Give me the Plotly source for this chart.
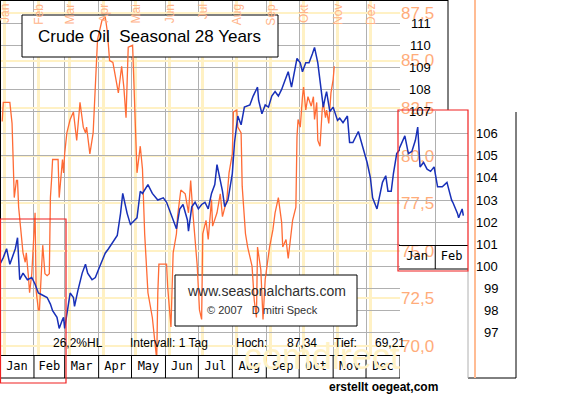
import plotly.graph_objects as go

W, H = 561, 395

# ---------------- data ----------------
# seasonal pattern (index, 28 years), day of year; values beyond 365 continue into Jan/Feb of next year
season_day = [0, 3, 6, 9, 14, 16, 18, 21, 25, 29, 32, 35, 39, 43, 46, 48, 52, 54, 57, 58, 59, 61, 64, 67, 68,
              71, 75, 78, 80, 84, 87, 91, 96, 99, 103, 107, 110, 112, 116, 119, 121, 125, 128, 130, 135, 139,
              144, 149, 152, 157, 161, 164, 167, 171, 172, 175, 178, 181, 184, 187, 190, 193, 196, 198, 201,
              203, 205, 208, 212, 214, 217, 220, 223, 228, 231, 235, 236, 239, 242, 245, 248, 251, 254, 257,
              260, 263, 266, 268, 271, 274, 276, 279, 282, 285, 287, 290, 292, 295, 297, 298, 301, 304, 308,
              310, 313, 317, 319, 322, 327, 331, 335, 338, 340, 344, 347, 349, 352, 354, 357, 359, 362, 365,
              370, 373, 376, 379, 381, 383, 386, 389, 392, 395, 398, 402, 406, 410, 411, 415, 416, 419, 420]
season_val = [100.1, 100.4, 100.8, 100.1, 100.8, 101.3, 99.4, 99.7, 99.4, 99.5, 99.2, 98.8, 98.7, 98.6, 98.3,
              98.0, 97.7, 97.2, 97.6, 97.7, 97.2, 97.8, 98.8, 98.6, 98.2, 98.9, 99.7, 100.1, 99.7, 99.4, 99.5,
              100.0, 100.6, 100.8, 101.1, 101.4, 102.4, 103.3, 102.4, 101.9, 102.0, 102.2, 103.4, 103.3, 103.7,
              103.3, 103.0, 103.1, 102.9, 102.2, 101.7, 102.6, 102.8, 102.1, 101.6, 102.7, 102.9, 102.6, 102.8,
              102.9, 102.6, 103.3, 103.7, 104.6, 103.9, 103.4, 102.7, 103.0, 104.2, 105.6, 106.8, 106.4, 107.2,
              107.3, 107.7, 108.1, 107.5, 106.9, 107.3, 107.2, 107.7, 107.9, 107.7, 108.0, 108.4, 108.8, 108.1,
              108.7, 109.4, 109.2, 108.8, 109.2, 109.2, 109.6, 109.9, 109.2, 108.4, 107.2, 107.7, 107.9, 107.0,
              107.2, 106.6, 106.7, 106.5, 106.8, 105.6, 105.6, 106.1, 105.4, 104.7, 104.0, 103.1, 102.6, 103.3,
              103.8, 104.1, 103.4, 103.4, 104.2, 105.1, 105.3,
              105.9, 105.1, 105.2, 105.7, 106.3, 104.5, 104.7, 104.4, 104.3, 104.5, 103.6, 103.6, 103.8, 103.0,
              102.9, 102.4, 102.2, 102.6, 102.3]

# actual crude oil price (orange, right scale)
price_day = [2, 3, 9, 11, 12, 13, 15, 16, 17, 19, 21, 23, 24, 26, 27, 29, 30, 32, 33, 35, 36, 38, 39, 41, 43,
             45, 46, 47, 48, 53, 54, 57, 58, 59, 61, 64, 67, 70, 73, 76, 78, 79, 82, 85, 88, 89, 93, 96, 98, 100,
             103, 106, 108, 111, 113, 115, 117, 121, 123, 125, 128, 130, 132, 135, 139, 141, 143, 144, 145, 152,
             153, 156, 158, 161, 162, 165, 169, 172, 174, 176, 180, 182, 184, 185, 188, 190, 193, 194, 198, 201,
             203, 207, 209, 212, 213, 216, 217, 220, 221, 224, 226, 230, 232, 234, 235, 238, 240, 242, 245, 246,
             249, 251, 254, 257, 258, 261, 263, 266, 267, 270, 271, 272, 274, 276, 277, 279, 281, 284, 286, 287,
             289, 290, 292, 294, 295, 297, 298, 300, 302, 304, 305]
price_val = [81.8, 82.8, 82.8, 81.7, 79.8, 77.8, 78.7, 78.7, 77.3, 75.9, 74.9, 74.4, 74.9, 73.6, 72.8, 73.8, 74.9,
             77.0, 72.9, 71.9, 71.9, 74.2, 75.3, 73.8, 73.7, 73.8, 77.8, 78.7, 79.8, 79.8, 77.8, 79.8, 79.1, 80.1,
             81.2, 81.9, 82.3, 80.8, 82.8, 81.5, 81.2, 81.5, 80.1, 81.2, 84.7, 86.1, 87.1, 87.3, 86.5, 85.0, 84.9,
             83.8, 83.3, 84.7, 83.6, 82.0, 85.7, 85.8, 82.4, 79.1, 80.5, 79.3, 75.9, 72.8, 71.5, 70.2, 69.3, 72.8,
             74.3, 74.3, 73.1, 71.0, 74.9, 75.9, 76.8, 78.2, 78.0, 77.0, 78.7, 77.0, 74.2, 71.9, 71.4, 75.9, 76.6,
             75.6, 77.7, 76.3, 77.0, 78.0, 76.8, 77.7, 79.1, 80.1, 82.3, 82.4, 81.5, 81.2, 78.4, 75.9, 75.2, 74.2,
             72.4, 71.5, 75.2, 74.0, 71.4, 73.5, 74.9, 75.2, 76.1, 77.0, 77.8, 76.5, 75.2, 75.6, 74.6, 75.9, 76.6,
             77.3, 81.0, 81.9, 81.5, 83.1, 83.6, 82.4, 83.1, 82.6, 83.1, 81.9, 82.8, 80.8, 80.5, 82.4, 82.8, 82.0,
             82.4, 81.7, 83.3, 84.0, 84.7]

month_start = [0, 31, 59, 90, 120, 151, 181, 212, 243, 273, 304, 334, 365]
month_en = ['Jan', 'Feb', 'Mar', 'Apr', 'May', 'Jun', 'Jul', 'Aug', 'Sep', 'Oct', 'Nov', 'Dec']
month_de = ['Jan', 'Feb', 'Mar', 'Apr', 'Mai', 'Jun', 'Jul', 'Aug', 'Sep', 'Okt', 'Nov', 'Dez']
inset_start = [365, 396, 424]
inset_months = ['Jan', 'Feb']

season_ticks = [97, 98, 99, 100, 101, 102, 103, 104, 105, 106, 107, 108, 109, 110, 111]
price_ticks = [70.0, 72.5, 75.0, 77.5, 80.0, 82.5, 85.0, 87.5]
price_ticktext = ['70,0', '72,5', '75,0', '77,5', '80,0', '82,5', '85,0', '87,5']

title_text = 'Crude Oil  Seasonal 28 Years'
site_text = 'www.seasonalcharts.com'
copy_text = '\u00a9 2007   D mitri Speck'
stat_texts = ['26,2%HL', 'Intervall: 1 Tag', 'Hoch:', '87,34', 'Tief:', '69,21']
credit_text = 'erstellt oegeat,com'
watermark_text = 'comdirect'

# ---------------- helpers ----------------
def fx(p):
    return p / W


def fy(p):
    return 1 - p / H


SANS = 'Liberation Sans, Arial, sans-serif'
MONO = 'DejaVu Sans Mono, monospace'
GRAY = '#B0B0B0'
YEL = '#FFF1C4'
ORANGE_TXT = '#FFAC7A'

PLOT_W, PLOT_H = 400, 355
main_dom_x = [0, fx(PLOT_W)]
main_dom_y = [fy(PLOT_H), 1]
day_range = [0, 365]
season_range = [96.0, 112.04]
price_range = [69.53, 88.18]


def dx(p):  # pixel -> day (main x axis)
    return day_range[0] + p / PLOT_W * (day_range[1] - day_range[0])


def dy(p):  # pixel -> price (main y axis)
    return price_range[1] - p / PLOT_H * (price_range[1] - price_range[0])


fig = go.Figure()
fig.add_trace(go.Scatter(x=price_day, y=price_val, xaxis='x', yaxis='y', mode='lines',
                         line=dict(color='#FF6B35', width=1.3), hoverinfo='skip'))
fig.add_trace(go.Scatter(x=season_day, y=season_val, xaxis='x2', yaxis='y2', mode='lines',
                         line=dict(color='#1830B8', width=1.5), hoverinfo='skip'))
fig.add_trace(go.Scatter(x=season_day, y=season_val, xaxis='x3', yaxis='y5', mode='lines',
                         line=dict(color='#1830B8', width=1.5), hoverinfo='skip'))

mid = [(a + b) / 2 for a, b in zip(month_start[:-1], month_start[1:])]
inset_mid = [(a + b) / 2 for a, b in zip(inset_start[:-1], inset_start[1:])]

fig.update_layout(
    width=W, height=H, margin=dict(l=0, r=0, t=0, b=0),
    paper_bgcolor='white', plot_bgcolor='rgba(0,0,0,0)',
    showlegend=False, hovermode=False,
    xaxis=dict(domain=main_dom_x, range=day_range, anchor='y',
               tickvals=[m + 4 for m in month_start[:-1]], showticklabels=False, ticks='',
               showgrid=True, gridcolor=YEL, gridwidth=3, zeroline=False, showline=False),
    yaxis=dict(domain=main_dom_y, range=price_range, anchor='x', side='right',
               tickvals=price_ticks, ticktext=price_ticktext, ticks='',
               tickfont=dict(family=SANS, size=17, color=ORANGE_TXT),
               showgrid=True, gridcolor=YEL, gridwidth=2, zeroline=False, showline=False),
    xaxis2=dict(overlaying='x', anchor='y2', range=day_range, side='bottom',
                tickvals=mid, ticktext=month_en, ticks='',
                tickfont=dict(family=MONO, size=12, color='black'),
                showgrid=False, zeroline=False, showline=True, linecolor='black', linewidth=1,
                minor=dict(tickmode='array', tickvals=month_start[1:], showgrid=True,
                           gridcolor=GRAY, gridwidth=1, ticks='')),
    yaxis2=dict(overlaying='y', anchor='x2', range=season_range, side='left',
                tickvals=season_ticks, showticklabels=False, ticks='',
                showgrid=True, gridcolor=GRAY, gridwidth=1, zeroline=False, showline=False),
    xaxis3=dict(domain=[fx(399), fx(468)], anchor='y5', range=[inset_start[0], inset_start[-1]],
                tickvals=inset_mid, ticktext=inset_months, ticks='',
                tickfont=dict(family=MONO, size=12, color='black'),
                showgrid=False, zeroline=False, showline=True, linecolor='black', linewidth=1,
                minor=dict(tickmode='array', tickvals=inset_start[1:-1], showgrid=True,
                           gridcolor=GRAY, gridwidth=1, ticks='')),
    yaxis5=dict(domain=[fy(245), fy(111)], anchor='x3', range=[100.973, 107.025],
                tickvals=season_ticks, showticklabels=False, ticks='',
                showgrid=True, gridcolor=GRAY, gridwidth=1, zeroline=False, showline=False),
)

shapes = []


# boxes behind the traces but above the grid
def data_box(x0, y0, x1, y1):
    return dict(type='rect', xref='x', yref='y', layer='between',
                x0=dx(x0), x1=dx(x1), y0=dy(y1), y1=dy(y0),
                fillcolor='white', line=dict(color='black', width=1))


shapes.append(data_box(22, 15, 278, 57))
shapes.append(data_box(175, 275, 357, 326))


def pline(x0, y0, x1, y1, color='black', width=1):
    return dict(type='line', xref='paper', yref='paper', x0=fx(x0), x1=fx(x1), y0=fy(y0), y1=fy(y1),
                line=dict(color=color, width=width), layer='above')


# month row
shapes.append(pline(0, 378, 400, 378))
for m in month_start:
    shapes.append(dict(type='line', xref='x2', yref='paper', x0=m, x1=m, y0=fy(355), y1=fy(378),
                       line=dict(color='black', width=1), layer='above'))
# inset label row
shapes.append(pline(399, 269, 468, 269))
for m in inset_start[1:-1]:
    shapes.append(dict(type='line', xref='x3', yref='paper', x0=m, x1=m, y0=fy(245), y1=fy(269),
                       line=dict(color='black', width=1), layer='above'))
# frame
shapes.append(pline(0, 0.5, 448, 0.5))
shapes.append(pline(448, 0, 448, 110))
shapes.append(pline(0.5, 0, 0.5, 378))
shapes.append(pline(516, 112, 516, 378))
shapes.append(pline(468, 378, 516, 378))
shapes.append(pline(468, 271, 468, 378, color=GRAY))
shapes.append(pline(475, 0, 475, 378, color='#FFBC94', width=2))
# red boxes
shapes.append(dict(type='rect', xref='paper', yref='paper', x0=fx(0.5), x1=fx(66), y0=fy(383), y1=fy(219),
                   line=dict(color='#F02020', width=1.2), layer='above'))
shapes.append(dict(type='rect', xref='paper', yref='paper', x0=fx(398), x1=fx(468), y0=fy(271), y1=fy(110),
                   line=dict(color='#F02020', width=1.2), layer='above'))


def text(t, xp, ypix, size=12, color='black', family=SANS, xanchor='center'):
    return dict(text=t, xref='paper', yref='paper', x=fx(xp), y=fy(ypix), xanchor=xanchor,
                yanchor='middle', showarrow=False, font=dict(family=family, size=size, color=color))


anns = []
anns.append(text(watermark_text, 322, 356, size=36, color='#FFF2C6'))
for m, lab in zip(month_start[:-1], month_de):
    anns.append(dict(text=lab, xref='x', yref='paper', x=m + 4, y=fy(2), xanchor='center', yanchor='top',
                     textangle=-90, showarrow=False, font=dict(family=SANS, size=12, color='#FFB48A')))
# seasonal scale labels (right-aligned), placed on the seasonal y axis
for v in season_ticks:
    xr = 433 if v >= 107 else 500
    anns.append(dict(text=str(v), xref='paper', yref='y2', x=fx(xr), y=v, xanchor='right',
                     yanchor='middle', showarrow=False, font=dict(family=SANS, size=13, color='black')))
anns.append(text(title_text, 149, 36, size=17))
anns.append(text(site_text, 266, 291, size=14, color='#303030'))
anns.append(text(copy_text, 262, 310, size=11, color='#303030'))
stat_pos = [(78, 'center'), (169, 'center'), (234, 'left'), (285, 'left'), (332, 'left'), (373, 'left')]
for t, (xp, anc) in zip(stat_texts, stat_pos):
    anns.append(text(t, xp, 343, size=12, xanchor=anc))
anns.append(text('<b>' + credit_text + '</b>', 383, 387, size=12))

fig.update_layout(shapes=shapes, annotations=anns)
fig.write_html('out.html', config={'displayModeBar': False, 'staticPlot': True},
               post_script="document.body.style.margin='0px';document.body.style.padding='0px';")
